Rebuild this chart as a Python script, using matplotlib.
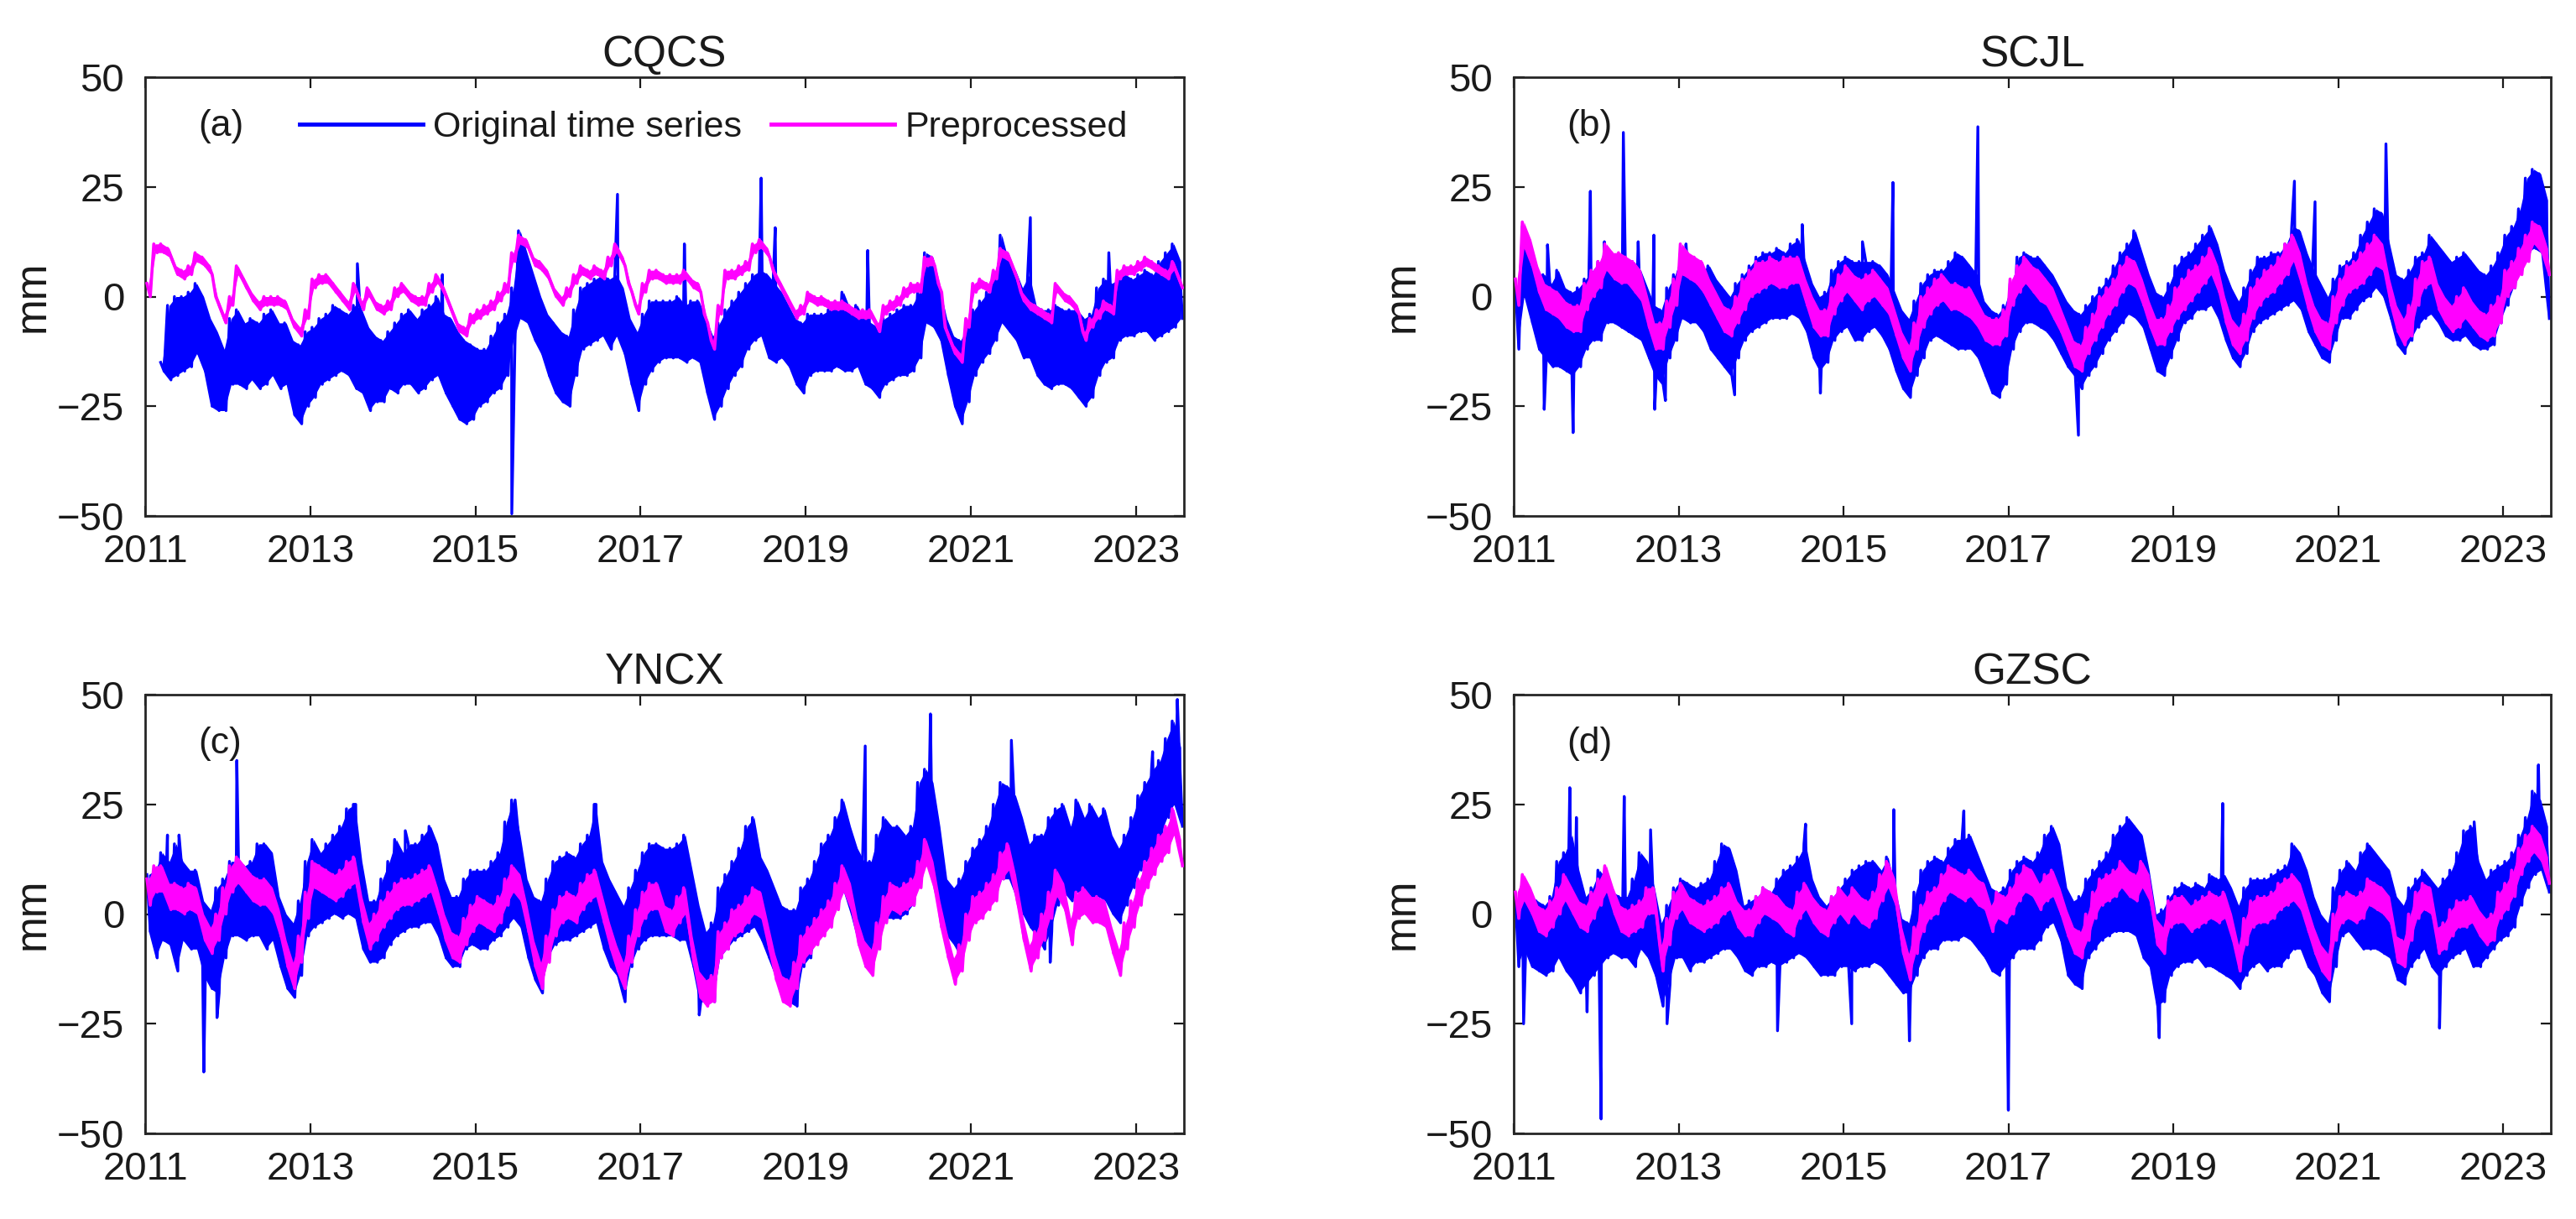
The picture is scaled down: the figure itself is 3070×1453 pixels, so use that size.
import numpy as np
import matplotlib
matplotlib.use("Agg")
import matplotlib.pyplot as plt
from matplotlib.lines import Line2D

plt.rcParams['font.family'] = ['Liberation Sans', 'DejaVu Sans']

# ---------------- data (monthly envelopes, Jan 2011 .. Jul 2023) ----------------
stations = ["CQCS", "SCJL", "YNCX", "GZSC"]
panel_labels = ["(a)", "(b)", "(c)", "(d)"]
year_ticks = [2011, 2013, 2015, 2017, 2019, 2021, 2023]
y_ticks = [-50, -25, 0, 25, 50]
nan = np.nan

# ---- CQCS ----
cqcs_orig_hi = [nan, nan, -15, -2, 0, 0, 1, 3, 0, -5, -8, -12,
                -5, -3, -6, -5, -6, -4, -3, -6, -6, -10, -11, -8,
                -7, -5, -4, -2, -3, -4, -2, -3, -7, -9, -10, -8,
                -6, -4, -3, -5, -3, -2, 0, -4, -5, -8, -10, -11,
                -12, -12, -9, -6, -4, 2, 15, 10, 5, 0, -4, -6,
                -8, -9, -3, 2, 3, 4, 5, 4, 5, 2, -5, -8,
                -4, -1, -1, -1, -1, 0, -2, -1, -1, -5, -9, -6,
                -3, -1, 1, 3, 5, 6, 5, 3, 1, -2, -5, -6,
                -4, -4, -4, -3, -3, 1, -3, -2, -5, -6, -7, -5,
                -4, -3, -2, -2, 1, 10, 9, 2, -5, -9, -10, -7,
                -3, -1, 1, 5, 14, 8, 6, 2, 5, -2, -3, -3,
                -2, -3, -3, -3, -5, -4, 2, 4, 3, 4, 5, 4,
                5, 6, 5, 8, 10, 12, 8]
cqcs_orig_lo = [nan, nan, -17, -19, -18, -17, -16, -13, -17, -25, -26, -26,
                -20, -20, -21, -19, -21, -20, -18, -21, -20, -27, -29, -25,
                -23, -20, -19, -18, -17, -18, -21, -22, -26, -24, -24, -21,
                -22, -20, -20, -22, -21, -19, -18, -22, -25, -28, -29, -28,
                -25, -24, -22, -21, -18, -10, -5, -6, -10, -13, -18, -22,
                -24, -25, -18, -12, -11, -10, -9, -12, -9, -13, -20, -26,
                -20, -17, -15, -14, -14, -14, -15, -14, -15, -22, -28, -25,
                -21, -18, -16, -12, -10, -9, -14, -15, -14, -16, -20, -22,
                -18, -17, -17, -17, -16, -17, -17, -16, -20, -21, -23, -20,
                -19, -18, -18, -17, -14, -6, -7, -10, -18, -25, -29, -24,
                -18, -15, -13, -10, -6, -8, -10, -14, -14, -18, -20, -21,
                -20, -20, -21, -23, -25, -23, -18, -15, -14, -10, -9, -9,
                -8, -8, -10, -9, -8, -7, -5]
cqcs_orig_spikes = [(2013.57, 7.5), (2014.6, 5), (2015.44, -49.5), (2016.72, 23.3),
                    (2017.53, 12), (2018.46, 27), (2018.63, 15.7), (2019.75, 10.5),
                    (2021.72, 18), (2022.67, 10)]
cqcs_prep_hi = [3, 12, 12, 11, 7, 6, 7, 10, 9, 7, 0, -4,
                0, 7, 4, 1, -1, 0, 0, 0, -1, -5, -7, -3,
                4, 5, 5, 3, 1, -1, 3, -1, 2, -1, -2, -1,
                2, 3, 1, 0, 0, 3, 5, 2, -2, -6, -7, -4,
                -3, -2, -1, 1, 3, 10, 14, 13, 9, 8, 6, 2,
                0, 2, 5, 7, 6, 7, 6, 9, 12, 9, 3, -2,
                3, 6, 6, 5, 5, 5, 6, 4, 3, -4, -10, -2,
                6, 6, 7, 8, 12, 13, 11, 6, 3, 0, -3, -2,
                1, 0, 0, -1, -1, -1, -2, -3, -3, -3, -6, -2,
                -1, 0, 2, 3, 3, 9, 9, 3, -7, -11, -13, -5,
                3, 4, 3, 6, 11, 10, 6, 1, -1, -2, -3, -4,
                3, 1, 0, -2, -8, -5, -3, -1, -2, 6, 7, 7,
                8, 9, 8, 7, 6, 8, 4]
cqcs_prep_lo = [0, 10, 10, 9, 5, 4, 5, 8, 7, 5, -2, -6,
                -2, 5, 2, -1, -3, -2, -2, -2, -3, -7, -9, -5,
                2, 3, 3, 1, -1, -3, 1, -3, 0, -3, -4, -3,
                0, 1, -1, -2, -2, 1, 3, 0, -4, -8, -9, -6,
                -5, -4, -3, -1, 1, 8, 12, 11, 7, 6, 4, 0,
                -2, 0, 3, 5, 4, 5, 4, 7, 10, 7, 1, -4,
                1, 4, 4, 3, 3, 3, 4, 2, 1, -6, -12, -4,
                4, 4, 5, 6, 10, 11, 9, 4, 1, -2, -5, -4,
                -1, -2, -2, -3, -3, -3, -4, -5, -5, -5, -8, -4,
                -3, -2, 0, 1, 1, 7, 7, 1, -9, -13, -15, -7,
                1, 2, 1, 4, 9, 8, 4, -1, -3, -4, -5, -6,
                1, -1, -2, -4, -10, -7, -5, -3, -4, 4, 5, 5,
                6, 7, 6, 5, 4, 6, 2]

# ---- SCJL ----
scjl_orig_hi = [2, 16, 10, 5, 5, 3, 6, 2, 1, 2, 4, 6,
                8, 9, 9, 8, 7, 8, 6, 2, -2, -3, 2, 5,
                10, 8, 8, 6, 7, 4, 2, 0, 3, 5, 7, 9,
                10, 10, 11, 10, 12, 13, 8, 3, 0, 1, 6, 8,
                9, 8, 8, 8, 8, 7, 5, 1, -3, -5, -1, 3,
                5, 6, 6, 8, 10, 9, 7, 5, -1, -3, -4, -2,
                3, 9, 10, 9, 9, 7, 5, 2, -1, -3, -4, -2,
                0, 2, 4, 7, 10, 12, 15, 10, 5, 1, 0, 3,
                7, 9, 10, 12, 14, 16, 12, 6, 2, -1, 2, 6,
                9, 9, 10, 10, 12, 16, 15, 10, 6, 3, 0, 4,
                7, 8, 10, 14, 17, 20, 19, 12, 5, 4, 6, 9,
                10, 14, 12, 10, 8, 9, 10, 8, 6, 5, 7, 10,
                14, 16, 20, 27, 29, 28, 22]
scjl_orig_lo = [-12, 0, -6, -12, -14, -16, -16, -17, -18, -16, -12, -10,
                -10, -6, -6, -7, -8, -9, -10, -14, -18, -20, -14, -10,
                -5, -6, -6, -8, -12, -14, -16, -18, -14, -10, -8, -7,
                -6, -5, -5, -5, -4, -5, -8, -14, -17, -15, -10, -8,
                -7, -10, -10, -8, -7, -9, -12, -17, -21, -23, -18, -14,
                -10, -9, -10, -11, -12, -12, -12, -14, -18, -22, -23, -20,
                -12, -8, -6, -6, -7, -8, -10, -13, -16, -18, -21, -18,
                -16, -13, -10, -8, -6, -4, -5, -7, -12, -17, -18, -14,
                -10, -6, -5, -3, -3, -2, -5, -10, -14, -16, -13, -8,
                -6, -5, -4, -3, -2, -1, -3, -8, -11, -14, -15, -10,
                -5, -5, -3, -1, 0, 2, 0, -5, -11, -13, -10, -7,
                -5, -4, -6, -9, -10, -10, -9, -11, -12, -12, -11, -6,
                -2, 2, 6, 10, 11, 10, -5]
scjl_orig_spikes = [(2011.37, -25.7), (2011.41, 11.8), (2011.72, -31), (2011.93, 24),
                    (2012.1, 12.5), (2012.33, 37.4), (2012.51, 12.5), (2012.7, 14),
                    (2012.71, -25.7), (2012.84, -23.7), (2013.09, 12), (2013.68, -22.4),
                    (2014.5, 16.4), (2014.72, -22), (2015.23, 12.5), (2015.6, 26),
                    (2016.63, 38.7), (2017.85, -31.6), (2020.47, 26.3), (2020.72, 21.6),
                    (2021.58, 34.8)]
scjl_prep_hi = [4, 17, 13, 7, 3, 2, 1, -1, -2, -2, 3, 6,
                8, 12, 10, 10, 9, 8, 6, 0, -6, -6, -1, 4,
                12, 10, 9, 8, 4, 1, -2, -3, 0, 4, 6, 8,
                8, 9, 8, 9, 9, 9, 4, 0, -3, -3, 2, 5,
                7, 5, 4, 5, 6, 4, 2, -3, -8, -11, -6, 0,
                2, 4, 5, 3, 3, 2, 2, -1, -4, -5, -5, -3,
                4, 7, 9, 7, 6, 4, 2, -2, -6, -10, -11, -7,
                -4, 0, 2, 4, 7, 9, 8, 4, -1, -5, -5, -2,
                2, 4, 6, 7, 9, 11, 7, 0, -5, -7, -4, 2,
                4, 6, 7, 9, 12, 14, 10, 3, -2, -5, -6, 0,
                4, 7, 8, 10, 12, 14, 12, 4, -2, -5, -2, 4,
                8, 9, 3, 0, -2, 0, 2, -1, -3, -4, -2, 0,
                6, 8, 11, 14, 17, 16, 11]
scjl_prep_lo = [-2, 11, 7, 1, -3, -4, -5, -7, -8, -8, -3, 0,
                2, 6, 4, 3, 3, 1, -1, -7, -12, -12, -7, -2,
                5, 4, 3, 1, -2, -5, -8, -9, -6, -3, 0, 1,
                2, 3, 2, 2, 3, 3, -2, -7, -9, -9, -4, -1,
                1, -1, -3, -1, 0, -2, -4, -9, -14, -17, -12, -7,
                -4, -2, -1, -3, -3, -4, -5, -7, -10, -11, -11, -9,
                -2, 1, 3, 1, -1, -2, -5, -8, -12, -16, -17, -13,
                -10, -7, -4, -2, 1, 3, 2, -2, -7, -11, -11, -8,
                -5, -3, -1, 1, 3, 5, 1, -6, -11, -13, -10, -5,
                -2, 0, 1, 3, 5, 8, 3, -3, -8, -11, -12, -6,
                -2, 1, 2, 3, 5, 7, 6, -2, -8, -11, -9, -2,
                2, 3, -3, -6, -8, -7, -5, -7, -9, -10, -9, -6,
                0, 2, 5, 8, 12, 10, 5]

# ---- YNCX ----
yncx_orig_hi = [9, 10, 14, 12, 16, 12, 10, 10, 3, 1, 6, 8,
                12, 12, 11, 12, 16, 16, 14, 4, 0, -2, 3, 12,
                17, 14, 16, 18, 20, 24, 25, 12, 3, 3, 8, 12,
                17, 14, 16, 16, 18, 20, 16, 8, 4, 4, 8, 10,
                10, 10, 12, 14, 21, 26, 18, 8, 4, 3, 8, 12,
                13, 14, 13, 16, 18, 25, 12, 8, 5, 2, 6, 10,
                14, 16, 16, 15, 15, 16, 18, 10, 2, -4, -2, 6,
                9, 12, 15, 20, 22, 13, 10, 6, 2, 1, 1, 6,
                8, 12, 16, 18, 22, 26, 20, 15, 12, 12, 18, 22,
                20, 20, 18, 20, 30, 33, 30, 20, 8, 6, 8, 12,
                15, 17, 20, 25, 30, 29, 27, 22, 16, 18, 18, 22,
                24, 25, 20, 26, 22, 25, 22, 24, 18, 15, 18, 22,
                27, 30, 33, 35, 40, 44, 38]
yncx_orig_lo = [-4, -10, -6, -7, -13, -6, -8, -8, -14, -17, -18, -10,
                -5, -5, -6, -5, -5, -8, -6, -12, -17, -19, -14, -5,
                -3, -2, -1, 0, -1, 0, -1, -8, -11, -11, -10, -7,
                -5, -4, -3, -3, -2, -2, -5, -10, -12, -12, -8, -7,
                -8, -8, -6, -5, -3, -1, -3, -10, -15, -18, -10, -7,
                -6, -6, -5, -4, -3, -2, -8, -12, -14, -20, -12, -8,
                -6, -5, -5, -5, -5, -6, -6, -12, -20, -20, -20, -10,
                -8, -6, -5, -4, -3, -6, -10, -14, -18, -20, -21, -12,
                -10, -6, -3, 0, 2, 5, 0, -6, -10, -12, -6, -1,
                -1, -1, 0, 2, 8, 12, 10, 2, -5, -7, -10, -2,
                2, 3, 4, 5, 8, 8, 4, 0, -3, -5, -8, -4,
                2, 5, 3, 5, 4, 3, 4, 3, 0, -2, 2, 6,
                10, 12, 14, 18, 22, 25, 20]
yncx_orig_spikes = [(2011.27, 18), (2011.41, 18), (2011.71, -36), (2011.87, -23.6),
                    (2012.11, 35), (2013.55, 25), (2014.15, 19), (2015.48, 26),
                    (2016.46, 25), (2017.71, -23), (2019.72, 38.3), (2020.51, 45.6),
                    (2021.49, 39.6), (2021.96, -11), (2023.2, 37), (2023.5, 48.9)]
yncx_prep_hi = [8, 11, 11, 7, 7, 6, 7, 6, 0, -3, 0, 6,
                11, 13, 11, 9, 8, 8, 6, 1, -6, -11, -5, 5,
                12, 11, 10, 9, 10, 12, 13, 4, -2, 0, 3, 5,
                7, 8, 8, 9, 10, 11, 6, 0, -4, -5, -1, 2,
                4, 3, 2, 4, 8, 11, 9, 2, -6, -11, -5, 1,
                4, 5, 4, 7, 9, 10, 4, -2, -7, -11, -5, 1,
                5, 7, 7, 2, 1, 4, 6, -5, -13, -15, -14, -4,
                -2, 1, 2, 4, 6, 5, -2, -9, -14, -15, -11, -5,
                -3, -1, 1, 3, 7, 11, 7, -1, -6, -8, -2, 4,
                7, 6, 7, 8, 12, 17, 12, 3, -4, -10, -7, 0,
                4, 5, 7, 9, 14, 16, 9, 0, -7, -4, 0, 5,
                10, 7, -1, 5, 6, 4, 4, 3, -3, -8, -2, 3,
                8, 12, 15, 18, 20, 24, 17]
yncx_prep_lo = [2, 5, 5, 1, 1, 0, 1, 0, -6, -9, -6, 0,
                5, 7, 5, 3, 2, 2, 0, -5, -12, -17, -11, -1,
                6, 5, 4, 3, 4, 6, 7, -2, -8, -6, -3, -1,
                1, 2, 2, 3, 4, 5, 0, -6, -10, -11, -7, -4,
                -2, -3, -4, -2, 2, 5, 3, -4, -12, -17, -11, -5,
                -2, -1, -2, 1, 3, 4, -2, -8, -13, -17, -11, -5,
                -1, 1, 1, -4, -5, -2, 0, -11, -19, -21, -20, -10,
                -8, -5, -4, -2, 0, -1, -8, -15, -20, -21, -17, -11,
                -9, -7, -5, -3, 1, 5, 1, -7, -12, -14, -8, -2,
                1, 0, 1, 2, 6, 11, 6, -3, -10, -16, -13, -6,
                -2, -1, 1, 3, 8, 10, 3, -6, -13, -10, -6, -1,
                4, 1, -7, -1, 0, -2, -2, -3, -9, -14, -8, -3,
                2, 6, 9, 12, 14, 18, 11]

# ---- GZSC ----
gzsc_orig_hi = [3, 7, 4, 3, 2, 4, 12, 14, 18, 10, 4, 6,
                10, 8, 5, 4, 4, 8, 14, 12, 6, -2, 2, 6,
                8, 7, 6, 7, 8, 12, 16, 15, 10, 2, 3, 4,
                6, 5, 8, 10, 11, 13, 16, 8, 4, 2, 4, 6,
                8, 10, 11, 12, 12, 10, 13, 6, -1, -2, 5, 10,
                12, 13, 12, 15, 17, 17, 18, 14, 10, 6, 5, 6,
                10, 12, 13, 12, 14, 18, 20, 16, 6, 3, 4, 8,
                10, 12, 14, 18, 20, 22, 20, 18, 10, 0, 1, 4,
                6, 7, 6, 7, 6, 9, 8, 9, 6, 2, 6, 8,
                8, 8, 9, 10, 11, 16, 14, 10, 4, 0, -2, 6,
                10, 12, 10, 14, 16, 14, 12, 10, 4, 2, 6, 8,
                10, 8, 6, 8, 10, 14, 19, 20, 12, 8, 10, 11,
                12, 14, 18, 22, 28, 26, 20]
gzsc_orig_lo = [-12, -8, -12, -13, -14, -13, -10, -13, -15, -18, -16, -14,
                -12, -10, -9, -10, -10, -12, -8, -10, -14, -21, -16, -10,
                -10, -13, -11, -11, -10, -9, -8, -8, -10, -13, -14, -12,
                -12, -11, -12, -11, -10, -9, -10, -12, -14, -14, -14, -12,
                -12, -13, -12, -12, -11, -12, -14, -16, -18, -18, -14, -10,
                -8, -8, -6, -6, -6, -5, -6, -8, -10, -13, -14, -12,
                -10, -8, -8, -8, -6, -3, -2, -6, -14, -16, -17, -10,
                -8, -6, -5, -4, -4, -4, -5, -10, -12, -21, -20, -14,
                -12, -11, -11, -10, -12, -12, -13, -14, -15, -17, -14, -12,
                -11, -13, -12, -12, -10, -8, -8, -12, -14, -18, -20, -12,
                -5, -4, -6, -8, -8, -8, -9, -10, -15, -16, -12, -10,
                -8, -12, -14, -12, -10, -9, -8, -12, -12, -10, -8, -6,
                -5, -3, 2, 6, 9, 10, 5]
gzsc_orig_spikes = [(2011.12, -25), (2011.68, 28.8), (2011.76, 22), (2011.89, -22.3),
                    (2012.06, -46.7), (2012.34, 26.8), (2012.66, 19.2), (2012.86, -25),
                    (2014.2, -26.6), (2014.54, 20.5), (2015.1, -25), (2015.61, 23.8),
                    (2015.8, -28.9), (2016.46, 23.5), (2017.0, -44.7), (2018.83, -28.2),
                    (2019.6, 25.2), (2022.23, -26), (2022.65, 21), (2023.43, 34)]
gzsc_prep_hi = [5, 9, 6, 2, 1, 3, 6, 9, 6, 3, 2, 5,
                8, 11, 6, 2, 1, 2, 3, 6, 6, -7, -1, 5,
                7, 4, 3, 2, 3, 4, 6, 7, 3, 1, 1, 4,
                6, 5, 4, 2, 1, 5, 7, 4, 2, 1, 4, 6,
                4, 6, 4, 3, 5, 9, 12, 8, -3, -9, -3, 2,
                5, 6, 9, 11, 10, 9, 10, 8, 7, 2, 5, 4,
                6, 9, 11, 10, 7, 9, 10, 6, 1, -3, -4, 0,
                5, 8, 9, 10, 12, 10, 9, 12, 9, -1, -3, 3,
                4, 4, 2, 3, 4, 5, 4, 5, 0, -7, -1, 3,
                4, 4, 5, 7, 8, 9, 7, 2, -3, -7, -9, 0,
                4, 5, 4, 5, 8, 7, 6, 4, -5, -6, 0, 5,
                7, 6, -3, -2, 1, 3, 3, 4, 1, -1, 0, 5,
                7, 10, 15, 18, 20, 18, 13]
gzsc_prep_lo = [-1, 3, 0, -4, -5, -3, 0, 3, 0, -3, -4, -1,
                2, 5, 0, -4, -5, -4, -3, 0, 0, -13, -7, -1,
                1, -2, -3, -4, -3, -2, 0, 1, -3, -5, -5, -2,
                0, -1, -2, -4, -5, -1, 1, -2, -4, -5, -2, 0,
                -2, 0, -2, -3, -1, 3, 6, 2, -9, -15, -9, -4,
                -1, 0, 3, 5, 4, 3, 4, 2, 1, -4, -1, -2,
                0, 3, 5, 4, 1, 3, 4, 0, -5, -9, -10, -6,
                -1, 2, 3, 4, 6, 4, 3, 6, 3, -7, -9, -3,
                -2, -2, -4, -3, -2, -1, -2, -1, -6, -13, -7, -3,
                -2, -2, -1, 1, 2, 3, 1, -4, -9, -13, -15, -6,
                -2, -1, -2, -1, 2, 1, 0, -2, -11, -12, -6, -1,
                1, 0, -9, -8, -5, -3, -3, -2, -5, -7, -6, -1,
                1, 4, 9, 12, 14, 12, 7]

orig_hi = [cqcs_orig_hi, scjl_orig_hi, yncx_orig_hi, gzsc_orig_hi]
orig_lo = [cqcs_orig_lo, scjl_orig_lo, yncx_orig_lo, gzsc_orig_lo]
orig_spikes = [cqcs_orig_spikes, scjl_orig_spikes, yncx_orig_spikes, gzsc_orig_spikes]
prep_hi = [cqcs_prep_hi, scjl_prep_hi, yncx_prep_hi, gzsc_prep_hi]
prep_lo = [cqcs_prep_lo, scjl_prep_lo, yncx_prep_lo, gzsc_prep_lo]

n_months = len(cqcs_orig_hi)
t_month = 2011 + (np.arange(n_months) + 0.5) / 12.0


def trace(hi, lo, spikes=()):
    """Alternate the upper and lower envelope readings within each month, add spikes."""
    hi = np.asarray(hi, float)
    lo = np.asarray(lo, float)
    tt = np.column_stack([t_month - 1 / 48.0, t_month + 1 / 48.0]).ravel()
    vv = np.column_stack([hi, lo]).ravel()
    if spikes:
        st = np.array([s[0] for s in spikes], float)
        sv = np.array([s[1] for s in spikes], float)
        tt = np.concatenate([tt, st])
        vv = np.concatenate([vv, sv])
        order = np.argsort(tt, kind="stable")
        tt, vv = tt[order], vv[order]
    return tt, vv


# ---------------- figure ----------------
W, H = 3070, 1453
fig = plt.figure(figsize=(W / 100, H / 100), dpi=100)

axes_px = [(173, 92, 1411, 615), (1804, 92, 3040, 615),
           (173, 828, 1411, 1351), (1804, 828, 3040, 1351)]

BLUE = "#0000FF"
MAGENTA = "#FF00FF"
TXT = "#1a1a1a"

for k in range(4):
    x0, y0, x1, y1 = axes_px[k]
    ax = fig.add_axes([x0 / W, 1 - y1 / H, (x1 - x0) / W, (y1 - y0) / H])
    bh = np.asarray(orig_hi[k], float)
    bl = np.asarray(orig_lo[k], float)
    mh = np.asarray(prep_hi[k], float)
    ml = np.asarray(prep_lo[k], float)
    tb, vb = trace(bh, bl, orig_spikes[k])
    tm, vm = trace(mh, ml)
    ax.fill_between(t_month, bl, bh, color=BLUE, lw=0, zorder=2)
    ax.plot(tb, vb, color=BLUE, lw=2.4, zorder=2)
    ax.fill_between(t_month, ml, mh, color=MAGENTA, lw=0, zorder=3)
    ax.plot(tm, vm, color=MAGENTA, lw=2.6, zorder=3)

    ax.set_xlim(2011, 2023.58)
    ax.set_ylim(-50, 50)
    ax.set_xticks(year_ticks)
    ax.set_xticklabels([str(y) for y in year_ticks])
    ax.set_yticks(y_ticks)
    ax.tick_params(direction="in", length=9, width=1.6, top=True, right=True,
                   labelsize=34, colors=TXT, labelcolor=TXT)
    ax.tick_params(axis="y", pad=18)
    ax.tick_params(axis="x", pad=15)
    for s in ax.spines.values():
        s.set_linewidth(2.0)
        s.set_color("#262626")
    ax.set_title(stations[k], fontsize=37, color=TXT, pad=9)
    ax.set_ylabel("mm", fontsize=37, color=TXT)
    ax.yaxis.set_label_coords(-0.088, 0.5)
    ax.text(0.051, 0.889, panel_labels[k], transform=ax.transAxes, fontsize=32,
            color=TXT, ha="left", va="center")

    if k == 0:
        handles = [Line2D([], [], color=BLUE, lw=3.5), Line2D([], [], color=MAGENTA, lw=3.5)]
        ax.legend(handles, ["Original time series", "Preprocessed"], ncol=2,
                  loc="center left", bbox_to_anchor=(0.1486, 0.885), frameon=False,
                  fontsize=31, handlelength=3.42, handletextpad=0.28, columnspacing=0.81,
                  borderpad=0, borderaxespad=0, labelcolor=TXT)

fig.savefig("out.png", dpi=100, facecolor="white")
